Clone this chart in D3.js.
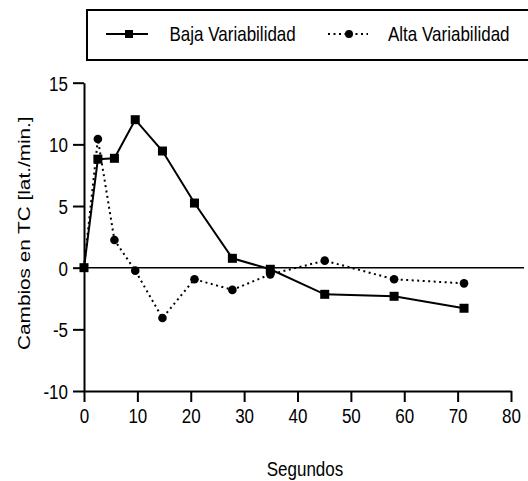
<!DOCTYPE html>
<html>
<head>
<meta charset="utf-8">
<script src="https://cdn.jsdelivr.net/npm/d3@7"></script>
<style>
  body { margin: 0; background: #fff; }
  svg { display: block; font-family: "Liberation Sans", Arial, sans-serif; }
</style>
</head>
<body>
<svg id="chart"></svg>
<script>
// seconds after the stimulus
const segundos = [0, 2.6, 5.7, 9.6, 14.7, 20.7, 27.8, 34.9, 45.1, 58.1, 71.2];
const bajaVariabilidad = [0, 8.8, 8.87, 12.0, 9.46, 5.24, 0.76, -0.13, -2.16, -2.32, -3.29];
const altaVariabilidad = [0, 10.43, 2.24, -0.24, -4.08, -0.94, -1.8, -0.54, 0.57, -0.94, -1.27];
const xTicks = [0, 10, 20, 30, 40, 50, 60, 70, 80];
const yTicks = [-10, -5, 0, 5, 10, 15];
const seriesNames = ['Baja Variabilidad', 'Alta Variabilidad'];

const w = 528;
const h = 481;
const stretch = 1.22; // text in the original is taller than it is wide

const x = d3.scaleLinear().domain([0, 80]).range([84, 511]);
const y = d3.scaleLinear().domain([-10, 15]).range([391, 82.7]);

const svg = d3.select('#chart')
    .attr('width', w)
    .attr('height', h);

// axes
const gx = svg.append('g')
    .attr('transform', `translate(0, ${y(-10)})`)
    .call(d3.axisBottom(x).tickValues(xTicks).tickFormat(d => String(d))
        .tickSize(11).tickSizeOuter(0));

gx.selectAll('text')
    .attr('y', null).attr('dy', null)
    .attr('transform', `translate(0, 32) scale(1, ${stretch})`)
    .attr('font-size', 17)
    .attr('fill', '#000');

const gy = svg.append('g')
    .attr('transform', `translate(${x(0)}, 0)`)
    .call(d3.axisLeft(y).tickValues(yTicks).tickFormat(d => String(d))
        .tickSize(11).tickSizeOuter(0));

gy.selectAll('text')
    .attr('x', null).attr('dy', null)
    .attr('transform', `translate(-16, 7.4) scale(1, ${stretch})`)
    .attr('font-size', 17)
    .attr('fill', '#000');

svg.selectAll('.domain, .tick line')
    .attr('stroke', '#000')
    .attr('stroke-width', 2);

// zero line
svg.append('line')
    .attr('x1', x(0)).attr('x2', 524)
    .attr('y1', y(0)).attr('y2', y(0))
    .attr('stroke', '#000')
    .attr('stroke-width', 1.6);

// axis titles
svg.append('text')
    .attr('transform', `translate(305, 476) scale(1, ${stretch})`)
    .attr('text-anchor', 'middle')
    .attr('font-size', 17)
    .text('Segundos');

svg.append('text')
    .attr('transform', `translate(30, ${y(2.8)}) scale(1, ${stretch}) rotate(-90)`)
    .attr('text-anchor', 'middle')
    .attr('font-size', 17)
    .text('Cambios en TC [lat./min.]');

// series
const line = d3.line()
    .x(d => x(d[0]))
    .y(d => y(d[1]));

const alta = segundos.map((s, i) => [s, altaVariabilidad[i]]);
const baja = segundos.map((s, i) => [s, bajaVariabilidad[i]]);

svg.append('path')
    .datum(alta)
    .attr('d', line)
    .attr('fill', 'none')
    .attr('stroke', '#000')
    .attr('stroke-width', 2)
    .attr('stroke-dasharray', '2,3.5');

svg.selectAll('.alta')
    .data(alta)
    .enter()
    .append('circle')
    .attr('class', 'alta')
    .attr('cx', d => x(d[0]))
    .attr('cy', d => y(d[1]))
    .attr('r', 4.3);

svg.append('path')
    .datum(baja)
    .attr('d', line)
    .attr('fill', 'none')
    .attr('stroke', '#000')
    .attr('stroke-width', 2);

svg.selectAll('.baja')
    .data(baja)
    .enter()
    .append('rect')
    .attr('class', 'baja')
    .attr('x', d => x(d[0]) - 4.5)
    .attr('y', d => y(d[1]) - 4.5)
    .attr('width', 9)
    .attr('height', 9);

// legend
const legend = svg.append('g');

legend.append('rect')
    .attr('x', 87).attr('y', 10)
    .attr('width', 460).attr('height', 50)
    .attr('fill', 'none')
    .attr('stroke', '#000')
    .attr('stroke-width', 2);

legend.append('line')
    .attr('x1', 106).attr('x2', 148)
    .attr('y1', 34).attr('y2', 34)
    .attr('stroke', '#000').attr('stroke-width', 2);
legend.append('rect')
    .attr('x', 125).attr('y', 30)
    .attr('width', 8).attr('height', 8);
legend.append('text')
    .attr('transform', `translate(169.5, 41) scale(1, ${stretch})`)
    .attr('font-size', 17)
    .text(seriesNames[0]);

legend.append('line')
    .attr('x1', 328).attr('x2', 368)
    .attr('y1', 34).attr('y2', 34)
    .attr('stroke', '#000').attr('stroke-width', 2)
    .attr('stroke-dasharray', '2,3.5');
legend.append('circle')
    .attr('cx', 349).attr('cy', 34).attr('r', 4);
legend.append('text')
    .attr('transform', `translate(388, 41) scale(1, ${stretch})`)
    .attr('font-size', 17)
    .text(seriesNames[1]);
</script>
</body>
</html>
